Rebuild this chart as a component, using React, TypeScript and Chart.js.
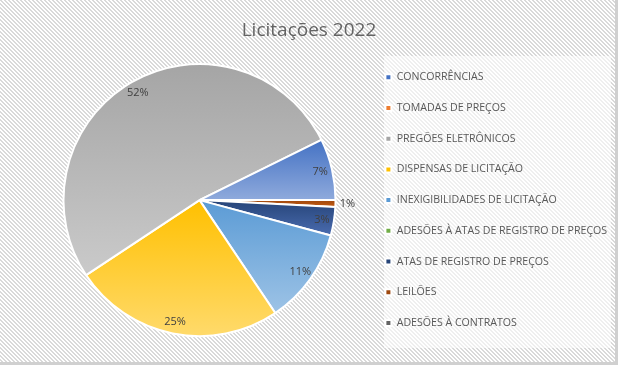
import React, { useEffect, useRef } from 'react';
import { Chart, registerables } from 'chart.js';

Chart.register(...registerables);

const chartTitle = 'Licitações 2022';
const categories = [
  'CONCORRÊNCIAS',
  'TOMADAS DE PREÇOS',
  'PREGÕES ELETRÔNICOS',
  'DISPENSAS DE LICITAÇÃO',
  'INEXIGIBILIDADES DE LICITAÇÃO',
  'ADESÕES À ATAS DE REGISTRO DE PREÇOS',
  'ATAS DE REGISTRO DE PREÇOS',
  'LEILÕES',
  'ADESÕES À CONTRATOS',
];
const shares = [7.3, 0, 52.0, 25.1, 11.4, 0, 3.4, 0.8, 0];
const topColors = ['#4472C4', '#ED7D31', '#A5A5A5', '#FFC000', '#5B9BD5', '#70AD47', '#264478', '#9E480E', '#636363'];
const bottomColors = ['#8FAADC', '#F4B183', '#CACACA', '#FFDA6B', '#9DC3E6', '#A9D18E', '#4A6CB0', '#C55A11', '#8C8C8C'];

const FONT = 'Open Sans';

// Excel draws this pie counter-clockwise; Chart.js draws clockwise, so the drawing order is reversed
const order = categories.map((_, i) => categories.length - 1 - i);

function makePattern(ctx: CanvasRenderingContext2D, color: string) {
  const c = document.createElement('canvas');
  c.width = 4;
  c.height = 4;
  const p = c.getContext('2d')!;
  p.fillStyle = '#ffffff';
  p.fillRect(0, 0, 4, 4);
  p.fillStyle = color;
  for (let y = 0; y < 4; y++)
    for (let x = 0; x < 4; x++) if ((((x - y) % 4) + 4) % 4 < 2) p.fillRect(x, y, 1, 1);
  return ctx.createPattern(c, 'repeat')!;
}

const backgroundPlugin = {
  id: 'bgPattern',
  afterLayout(chart: any) {
    const tb = chart.titleBlock;
    if (tb) {
      tb.left = 0;
      tb.right = chart.width;
      tb.width = chart.width;
    }
  },
  beforeDraw(chart: any) {
    const ctx: CanvasRenderingContext2D = chart.ctx;
    const W = chart.width;
    const H = chart.height;
    ctx.save();
    ctx.fillStyle = makePattern(ctx, '#D9D9D9');
    ctx.fillRect(0, 0, W, H);
    const lg = chart.legend;
    if (lg) {
      const pad = lg.options.labels.padding;
      const x0 = Math.round(lg.left + pad - 1);
      const x1 = W - 7;
      const y0 = Math.round(lg.top + 8);
      const y1 = Math.round(lg.bottom - 4);
      ctx.fillStyle = makePattern(ctx, '#EFEFEF');
      ctx.fillRect(x0, y0, x1 - x0, y1 - y0);
    }
    ctx.fillStyle = '#D0D0D0';
    ctx.fillRect(W - 3, 0, 3, H);
    ctx.fillRect(0, H - 3, W, 3);
    ctx.restore();
  },
};

function angleIn(t: number, s: number, e: number) {
  let tt = t;
  while (tt < s) tt += Math.PI * 2;
  while (tt >= s + Math.PI * 2) tt -= Math.PI * 2;
  return tt <= e;
}

const gradientPlugin = {
  id: 'sliceGradient',
  beforeDatasetsDraw(chart: any) {
    const ctx: CanvasRenderingContext2D = chart.ctx;
    const meta = chart.getDatasetMeta(0);
    meta.data.forEach((arc: any, i: number) => {
      const { x, y, startAngle, endAngle, outerRadius } = arc.getProps(
        ['x', 'y', 'startAngle', 'endAngle', 'outerRadius'],
        true
      );
      let top = y;
      let bottom = y;
      [startAngle, endAngle].forEach((a: number) => {
        const yy = y + outerRadius * Math.sin(a);
        top = Math.min(top, yy);
        bottom = Math.max(bottom, yy);
      });
      if (angleIn(Math.PI / 2, startAngle, endAngle)) bottom = y + outerRadius;
      if (angleIn(-Math.PI / 2, startAngle, endAngle)) top = y - outerRadius;
      if (bottom - top < 1) bottom = top + 1;
      const idx = order[i];
      const g = ctx.createLinearGradient(0, top, 0, bottom);
      g.addColorStop(0, topColors[idx]);
      g.addColorStop(1, bottomColors[idx]);
      arc.options = Object.assign({}, arc.options, { backgroundColor: g });
    });
  },
};

const labelPlugin = {
  id: 'pctLabels',
  afterDatasetsDraw(chart: any) {
    const ctx: CanvasRenderingContext2D = chart.ctx;
    const meta = chart.getDatasetMeta(0);
    const values: number[] = chart.data.datasets[0].data;
    const total = values.reduce((a, b) => a + b, 0);
    ctx.save();
    ctx.font = `11px "${FONT}"`;
    ctx.fillStyle = '#404040';
    ctx.textAlign = 'center';
    ctx.textBaseline = 'middle';
    meta.data.forEach((arc: any, i: number) => {
      const v = values[i];
      if (!v) return;
      const pct = Math.round((v / total) * 100);
      const { x, y, startAngle, endAngle, outerRadius } = arc.getProps(
        ['x', 'y', 'startAngle', 'endAngle', 'outerRadius'],
        true
      );
      const mid = (startAngle + endAngle) / 2;
      const d = pct < 2 ? outerRadius + 12 : outerRadius - 12;
      ctx.fillText(pct + '%', x + d * Math.cos(mid), y + d * Math.sin(mid));
    });
    ctx.restore();
  },
};

export default function App() {
  const ref = useRef<HTMLCanvasElement | null>(null);
  useEffect(() => {
    document.body.style.margin = '0';
    const canvas = ref.current!;
    const chart = new Chart(canvas, {
      type: 'pie',
      data: {
        labels: order.map((i) => categories[i]),
        datasets: [
          {
            data: order.map((i) => shares[i]),
            backgroundColor: order.map((i) => topColors[i]),
            borderColor: '#ffffff',
            borderWidth: 2,
            radius: 136,
          } as any,
        ],
      },
      options: {
        responsive: false,
        animation: false,
        events: [],
        rotation: 90,
        layout: { padding: { left: 33.7, right: 7.7, top: 0, bottom: 13 } },
        plugins: {
          title: {
            display: true,
            text: chartTitle,
            color: '#646464',
            font: { family: FONT, size: 19, weight: 'normal', lineHeight: 1.2 },
            padding: { top: 19, bottom: 6.4 },
          },
          legend: {
            position: 'right',
            align: 'center',
            fullSize: false,
            maxWidth: 245,
            labels: {
              boxWidth: 6,
              boxHeight: 6,
              padding: 20.1,
              color: '#595959',
              font: { family: FONT, size: 10.6 },
              sort: (a: any, b: any) => b.index - a.index,
            },
          },
          tooltip: { enabled: false },
        },
      } as any,
      plugins: [backgroundPlugin, gradientPlugin, labelPlugin],
    });
    return () => chart.destroy();
  }, []);
  return <canvas ref={ref} width={618} height={365} style={{ display: 'block', width: 618, height: 365 }} />;
}
